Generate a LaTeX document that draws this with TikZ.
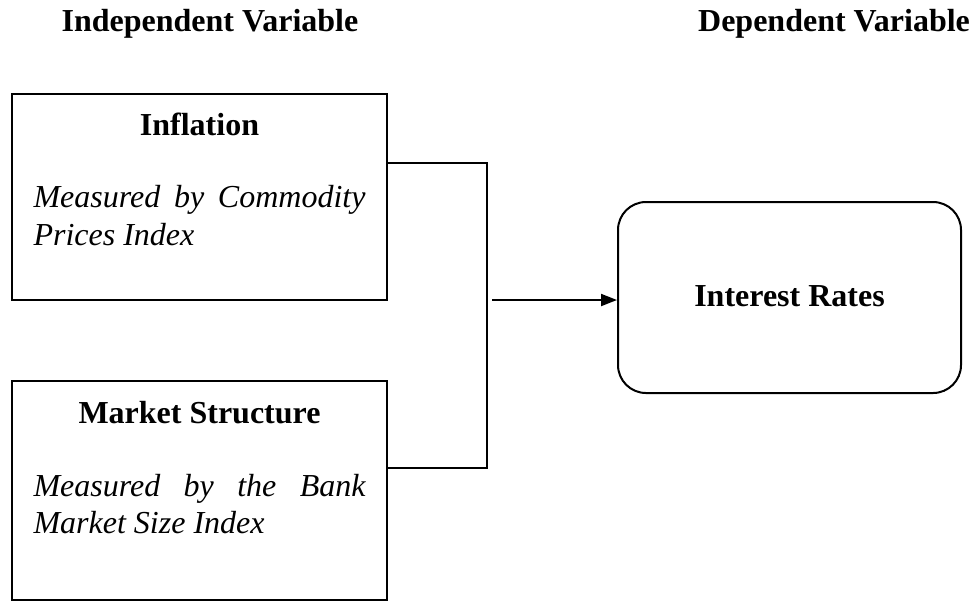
\documentclass[tikz,border=0pt]{standalone}
\usepackage{fontspec}
\setmainfont{Liberation Serif}
\usetikzlibrary{arrows.meta}

\tikzset{
  varbox/.style={draw, line width=0.75pt, minimum width=140.625pt, inner sep=0pt},
  depbox/.style={draw, line width=0.75pt, rounded corners=10.5pt, minimum width=128.625pt, minimum height=71.625pt, inner sep=0pt},
  head/.style={anchor=base, inner sep=0pt, font=\fontsize{12pt}{14pt}\selectfont\bfseries},
  desc/.style={anchor=base west, inner sep=0pt, font=\fontsize{12pt}{14pt}\selectfont\itshape}
}

\begin{document}
\begin{tikzpicture}[x=0.375pt, y=-0.375pt]
\useasboundingbox (0,0) rectangle (976,602);

% headings
\node[head] (indep) at (210,31) {Independent Variable};
\node[head] (dep) at (834,31) {Dependent Variable};

% independent variables
\node[varbox, minimum height=77.25pt] (infl) at (199.5,197) {};
\node[head] (infltitle) at (199.5,135) {Inflation};
\node[desc] (infldesca) at (33,207) {\makebox[124.5pt][s]{Measured by Commodity}};
\node[desc] (infldescb) at (33,245) {Prices Index};

\node[varbox, minimum height=82.125pt] (mkt) at (199.5,490.5) {};
\node[head] (mkttitle) at (199.5,423) {Market Structure};
\node[desc] (mktdesca) at (33,496) {\makebox[124.5pt][s]{Measured by the Bank}};
\node[desc] (mktdescb) at (33,533) {Market Size Index};

% dependent variable
\node[depbox] (rate) at (789.5,297.5) {};
\node[head] (ratetitle) at (789.5,306) {Interest Rates};

% connectors
\coordinate (jtop) at (487,163);
\coordinate (jbot) at (487,468);
\coordinate (arrstart) at (492,300);
\draw[line width=0.75pt] (jtop -| infl.east) -- (jtop) -- (jbot) -- (jbot -| mkt.east);
\draw[line width=0.75pt, -{Triangle[length=6pt, width=4.5pt]}] (arrstart) -- (arrstart -| rate.west);

\end{tikzpicture}
\end{document}
